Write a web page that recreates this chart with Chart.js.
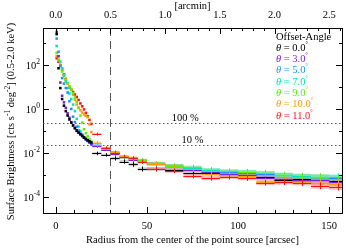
<!DOCTYPE html>
<html>
<head>
<meta charset="utf-8">
<script src="https://cdn.jsdelivr.net/npm/chart.js@4.4.1/dist/chart.umd.min.js"></script>
<style>
  html, body { margin: 0; padding: 0; background: #fff; }
  #wrap { width: 346px; height: 250px; }
</style>
</head>
<body>
<div id="wrap"><canvas id="sbChart"></canvas></div>
<script>
// offset angles and their colours
const angles = ['0.0', '3.0', '5.0', '7.0', '9.0', '10.0', '11.0'];
const colors = ['#000000', '#7a1fe0', '#1f8fff', '#00e6b0', '#5ef000', '#ff9a00', '#ff1010'];

// inner profile (1 arcsec steps), log10 of surface brightness
const innerR = [0.5, 1.5, 2.5, 3.5, 4.5, 5.5, 6.5, 7.5, 8.5, 9.5, 10.5, 11.5, 12.5, 13.5, 14.5, 15.5, 16.5, 17.5, 18.5, 19.5];
const inner00 = [3.4, 1.85, 0.95, 0.45, 0.15, -0.1, -0.3, -0.48, -0.62, -0.75, -0.87, -0.98, -1.07, -1.15, -1.23, -1.3, -1.36, -1.42, -1.47, -1.52];
const inner03 = [3.5, 2.4, 1.2, 0.6, 0.3, 0.05, -0.2, -0.4, -0.6, -0.75, -0.88, -1.0, -1.08, -1.15, -1.22, -1.3, -1.38, -1.45, -1.52, -1.6];
const inner05 = [3.2, 2.6, 1.95, 1.4, 1.15, 0.95, 0.75, 0.35, 0.0, -0.35, -0.6, -0.8, -0.98, -1.1, -1.2, -1.3, -1.38, -1.45, -1.52, -1.58];
const inner07 = [2.86, 2.4, 2.15, 1.85, 1.55, 1.25, 0.95, 0.7, 0.45, 0.2, -0.1, -0.45, -0.8, -1.0, -1.15, -1.27, -1.37, -1.46, -1.53, -1.6];
const inner09 = [2.55, 2.25, 1.95, 1.7, 1.5, 1.32, 1.17, 1.03, 0.88, 0.72, 0.52, 0.33, 0.05, -0.3, -0.62, -0.92, -1.1, -1.25, -1.38, -1.48];
const inner10 = [2.4, 2.2, 1.98, 1.75, 1.55, 1.35, 1.15, 1.0, 0.88, 0.65, 0.42, 0.2, 0.06, -0.06, -0.16, -0.25, -0.31, -0.37, -0.7, -1.05];
const inner11 = [2.3, 2.15, 2.0, 1.8, 1.57, 1.37, 1.17, 0.98, 0.87, 0.77, 0.66, 0.54, 0.41, 0.25, 0.12, -0.02, -0.18, -0.33, -0.5, -0.68];

// outer binned profile, log10 values and error (dex)
const binR    = [22.5, 27.5, 32.5, 37.5, 42.5, 47.5, 55, 65, 75, 85, 95, 105, 115, 125, 135, 145, 155];
const binHalf = [2.5, 2.5, 2.5, 2.5, 2.5, 2.5, 5, 5, 5, 5, 5, 5, 5, 5, 5, 5, 5];
const binErr  = [0.05, 0.05, 0.06, 0.06, 0.07, 0.07, 0.07, 0.08, 0.08, 0.09, 0.09, 0.1, 0.1, 0.11, 0.11, 0.12, 0.12];
const outer00 = [-2.02, -2.09, -2.25, -2.39, -2.52, -2.73, -2.73, -2.76, -2.91, -2.93, -2.98, -3.0, -3.08, -3.22, -3.2, -3.22, -3.28];
const outer03 = [-1.7, -1.85, -2.05, -2.2, -2.3, -2.36, -2.5, -2.62, -2.76, -2.88, -2.95, -3.0, -3.14, -3.18, -3.24, -3.25, -3.3];
const outer05 = [-1.62, -1.8, -2.0, -2.2, -2.28, -2.35, -2.5, -2.59, -2.7, -2.8, -2.86, -2.9, -2.95, -3.02, -3.05, -3.1, -3.12];
const outer07 = [-1.65, -1.82, -1.97, -2.2, -2.28, -2.37, -2.48, -2.6, -2.68, -2.77, -2.84, -2.86, -2.93, -3.0, -3.07, -3.1, -3.09];
const outer09 = [-1.55, -1.8, -1.97, -2.18, -2.27, -2.33, -2.47, -2.58, -2.64, -2.8, -2.82, -2.88, -2.91, -3.02, -3.08, -3.09, -3.2];
const outer10 = [-1.53, -1.79, -1.97, -2.15, -2.24, -2.35, -2.5, -2.62, -2.75, -2.95, -3.0, -3.05, -3.3, -3.28, -3.3, -3.35, -3.4];
const outer11 = [-1.14, -1.77, -2.0, -2.17, -2.24, -2.4, -2.72, -2.82, -3.05, -3.14, -3.09, -3.14, -3.36, -3.32, -3.36, -3.5, -3.55];

const innerLog = [inner00, inner03, inner05, inner07, inner09, inner10, inner11];
const outerLog = [outer00, outer03, outer05, outer07, outer09, outer10, outer11];

// reference levels (100 % and 10 %) and the 30 arcsec marker
const refLevels = [0.23, 0.023];
const refLabels = ['100 %', '10 %'];
const markerR = 30;

// axis ticks
const xTicks = [0, 50, 100, 150];
const arcminTicks = [0.0, 0.5, 1.0, 1.5, 2.0, 2.5];
const yLabelExps = [2, 0, -2, -4];

const FONT = '"Liberation Serif", "Times New Roman", serif';
Chart.defaults.font.family = FONT;
Chart.defaults.color = '#000';

function alpha(hex, a) {
  const n = parseInt(hex.slice(1), 16);
  return 'rgba(' + (n >> 16) + ',' + ((n >> 8) & 255) + ',' + (n & 255) + ',' + a + ')';
}

const datasets = angles.map((a, i) => ({
  label: 'θ = ' + a,
  data: innerR.map((r, j) => ({ x: r, y: Math.pow(10, innerLog[i][j]) })),
  backgroundColor: colors[i],
  borderWidth: 0,
  pointStyle: 'rect',
  pointRadius: 1.8,
  showLine: false
}));

const overlay = {
  id: 'overlay',
  beforeDatasetsDraw(chart) {
    const ctx = chart.ctx, a = chart.chartArea;
    const xs = chart.scales.x, ys = chart.scales.y;
    ctx.save();
    ctx.beginPath();
    ctx.rect(a.left, a.top, a.right - a.left, a.bottom - a.top);
    ctx.clip();

    // dotted reference levels
    ctx.strokeStyle = '#555';
    ctx.lineWidth = 1;
    ctx.setLineDash([1.5, 2.5]);
    refLevels.forEach(v => {
      const y = Math.round(ys.getPixelForValue(v)) + 0.5;
      ctx.beginPath(); ctx.moveTo(a.left, y); ctx.lineTo(a.right, y); ctx.stroke();
    });
    // dashed 30 arcsec marker
    ctx.setLineDash([8, 5]);
    const xm = Math.round(xs.getPixelForValue(markerR)) + 0.5;
    ctx.beginPath(); ctx.moveTo(xm, a.top); ctx.lineTo(xm, a.bottom); ctx.stroke();
    ctx.setLineDash([]);

    // shaded bands
    outerLog.forEach((vals, i) => {
      ctx.fillStyle = alpha(colors[i], i === 0 ? 0.22 : 0.3);
      vals.forEach((lv, k) => {
        const x0 = xs.getPixelForValue(binR[k] - binHalf[k]);
        const x1 = xs.getPixelForValue(binR[k] + binHalf[k]);
        const y0 = ys.getPixelForValue(Math.pow(10, lv + binErr[k]));
        const y1 = ys.getPixelForValue(Math.pow(10, lv - binErr[k]));
        ctx.fillRect(x0, y0, x1 - x0, y1 - y0);
      });
    });
    // bin lines and error bars
    ctx.lineWidth = 1;
    outerLog.forEach((vals, i) => {
      ctx.strokeStyle = colors[i];
      vals.forEach((lv, k) => {
        const x0 = xs.getPixelForValue(binR[k] - binHalf[k]);
        const x1 = xs.getPixelForValue(binR[k] + binHalf[k]);
        const xc = Math.round(xs.getPixelForValue(binR[k])) + 0.5;
        const y = Math.round(ys.getPixelForValue(Math.pow(10, lv))) + 0.5;
        const e = i === 0 ? 1.6 : 1.3;
        const ya = ys.getPixelForValue(Math.pow(10, lv + binErr[k] * e));
        const yb = ys.getPixelForValue(Math.pow(10, lv - binErr[k] * e));
        ctx.beginPath();
        ctx.moveTo(x0, y); ctx.lineTo(x1, y);
        ctx.moveTo(xc, ya); ctx.lineTo(xc, yb);
        ctx.stroke();
      });
    });
    ctx.restore();
  },
  afterDraw(chart) {
    const ctx = chart.ctx, a = chart.chartArea;
    const xs = chart.scales.x, ys = chart.scales.y;
    ctx.save();
    ctx.strokeStyle = '#000';
    ctx.lineWidth = 1;
    ctx.beginPath();
    // bottom ticks every 10 arcsec
    for (let v = 0; v <= 150; v += 10) {
      const x = Math.round(xs.getPixelForValue(v)) + 0.5;
      const len = v % 50 === 0 ? 6 : 3;
      ctx.moveTo(x, a.bottom); ctx.lineTo(x, a.bottom - len);
    }
    // top ticks every 0.1 arcmin
    for (let k = 0; k <= 26; k++) {
      const x = Math.round(xs.getPixelForValue(k * 6)) + 0.5;
      const len = k % 5 === 0 ? 6 : 3;
      ctx.moveTo(x, a.top); ctx.lineTo(x, a.top + len);
    }
    // left / right ticks at each decade
    for (let e = -4; e <= 3; e++) {
      const y = Math.round(ys.getPixelForValue(Math.pow(10, e))) + 0.5;
      const len = e % 2 === 0 ? 6 : 3;
      ctx.moveTo(a.left, y); ctx.lineTo(a.left + len, y);
      ctx.moveTo(a.right, y); ctx.lineTo(a.right - len, y);
    }
    ctx.stroke();

    // y tick labels 10^n
    ctx.fillStyle = '#000';
    ctx.textBaseline = 'alphabetic';
    yLabelExps.forEach(e => {
      const y = ys.getPixelForValue(Math.pow(10, e));
      const sup = e < 0 ? '-' + Math.abs(e) : String(e);
      ctx.font = '7.5px ' + FONT;
      const sw = ctx.measureText(sup).width;
      ctx.textAlign = 'left';
      ctx.font = '10.5px ' + FONT;
      const bw = ctx.measureText('10').width;
      const xr = 40;
      ctx.fillText('10', xr - sw - bw, y + 4);
      ctx.font = '7.5px ' + FONT;
      ctx.fillText(sup, xr - sw, y - 1);
    });

    // y axis title with superscripts
    const parts = [['Surface Brightness [cts s', 0], ['-1', 1], [' deg', 0], ['-2', 1], ['] (0.5-2.0 keV)', 0]];
    const fMain = '10.5px ' + FONT, fSup = '7.5px ' + FONT;
    let total = 0;
    parts.forEach(p => { ctx.font = p[1] ? fSup : fMain; total += ctx.measureText(p[0]).width; });
    ctx.translate(13.5, (a.top + a.bottom) / 2 + 1);
    ctx.rotate(-Math.PI / 2);
    let cx = -total / 2;
    ctx.textAlign = 'left';
    parts.forEach(p => {
      ctx.font = p[1] ? fSup : fMain;
      ctx.fillText(p[0], cx, p[1] ? -4 : 0);
      cx += ctx.measureText(p[0]).width;
    });
    ctx.setTransform(1, 0, 0, 1, 0, 0);

    // reference level labels
    ctx.font = '10.5px ' + FONT;
    ctx.textAlign = 'center';
    ctx.fillStyle = '#000';
    ctx.fillText(refLabels[0], xs.getPixelForValue(71), ys.getPixelForValue(refLevels[0]) - 2);
    ctx.fillText(refLabels[1], xs.getPixelForValue(75), ys.getPixelForValue(refLevels[1]) - 2);

    // legend
    const lx = 276;
    let ly = 39.5;
    ctx.textAlign = 'left';
    ctx.font = '10.5px ' + FONT;
    ctx.fillText('Offset-Angle', lx, ly);
    angles.forEach((ang, i) => {
      ly += 11.3;
      ctx.fillStyle = colors[i];
      ctx.font = 'italic 10.5px ' + FONT;
      ctx.fillText('θ', lx, ly);
      let w = ctx.measureText('θ').width;
      ctx.font = '10.5px ' + FONT;
      const t = ' = ' + ang;
      ctx.fillText(t, lx + w, ly);
      w += ctx.measureText(t).width;
      ctx.font = '6px ' + FONT;
      ctx.fillText('°', lx + w, ly - 5);
    });
    ctx.restore();
  }
};

new Chart('sbChart', {
  type: 'scatter',
  data: { datasets: datasets },
  options: {
    responsive: true,
    maintainAspectRatio: false,
    animation: false,
    devicePixelRatio: 1,
    layout: { padding: 0 },
    plugins: { legend: { display: false }, tooltip: { enabled: false } },
    scales: {
      x: {
        type: 'linear', position: 'bottom', min: -7, max: 157,
        afterBuildTicks: s => { s.ticks = xTicks.map(v => ({ value: v })); },
        afterFit: s => { s.height = 37; },
        grid: { display: false, drawTicks: false },
        border: { display: true, color: '#000', width: 1 },
        ticks: { font: { size: 10.5 }, padding: 7, maxRotation: 0, autoSkip: false, callback: v => String(v) },
        title: { display: true, text: 'Radius from the center of the point source [arcsec]', font: { size: 10.5 }, padding: { top: 0, bottom: 3 } }
      },
      x2: {
        type: 'linear', position: 'top', min: -7 / 60, max: 157 / 60,
        afterBuildTicks: s => { s.ticks = arcminTicks.map(v => ({ value: v })); },
        afterFit: s => { s.height = 28; },
        grid: { display: false, drawTicks: false },
        border: { display: true, color: '#000', width: 1 },
        ticks: { font: { size: 10.5 }, padding: 6, maxRotation: 0, autoSkip: false, callback: v => v.toFixed(1) },
        title: { display: true, text: '[arcmin]', font: { size: 10.5 }, padding: { top: 0, bottom: 0 } }
      },
      y: {
        type: 'logarithmic', position: 'left', min: Math.pow(10, -4.73), max: Math.pow(10, 3.68),
        afterBuildTicks: s => { s.ticks = yLabelExps.map(e => ({ value: Math.pow(10, e) })); },
        afterFit: s => { s.width = 43; },
        grid: { display: false, drawTicks: false },
        border: { display: true, color: '#000', width: 1 },
        ticks: { display: false }
      },
      y2: {
        type: 'logarithmic', position: 'right', min: Math.pow(10, -4.73), max: Math.pow(10, 3.68),
        afterBuildTicks: s => { s.ticks = yLabelExps.map(e => ({ value: Math.pow(10, e) })); },
        afterFit: s => { s.width = 1; },
        grid: { display: false, drawTicks: false },
        border: { display: true, color: '#000', width: 1 },
        ticks: { display: false }
      }
    }
  },
  plugins: [overlay]
});
</script>
</body>
</html>
